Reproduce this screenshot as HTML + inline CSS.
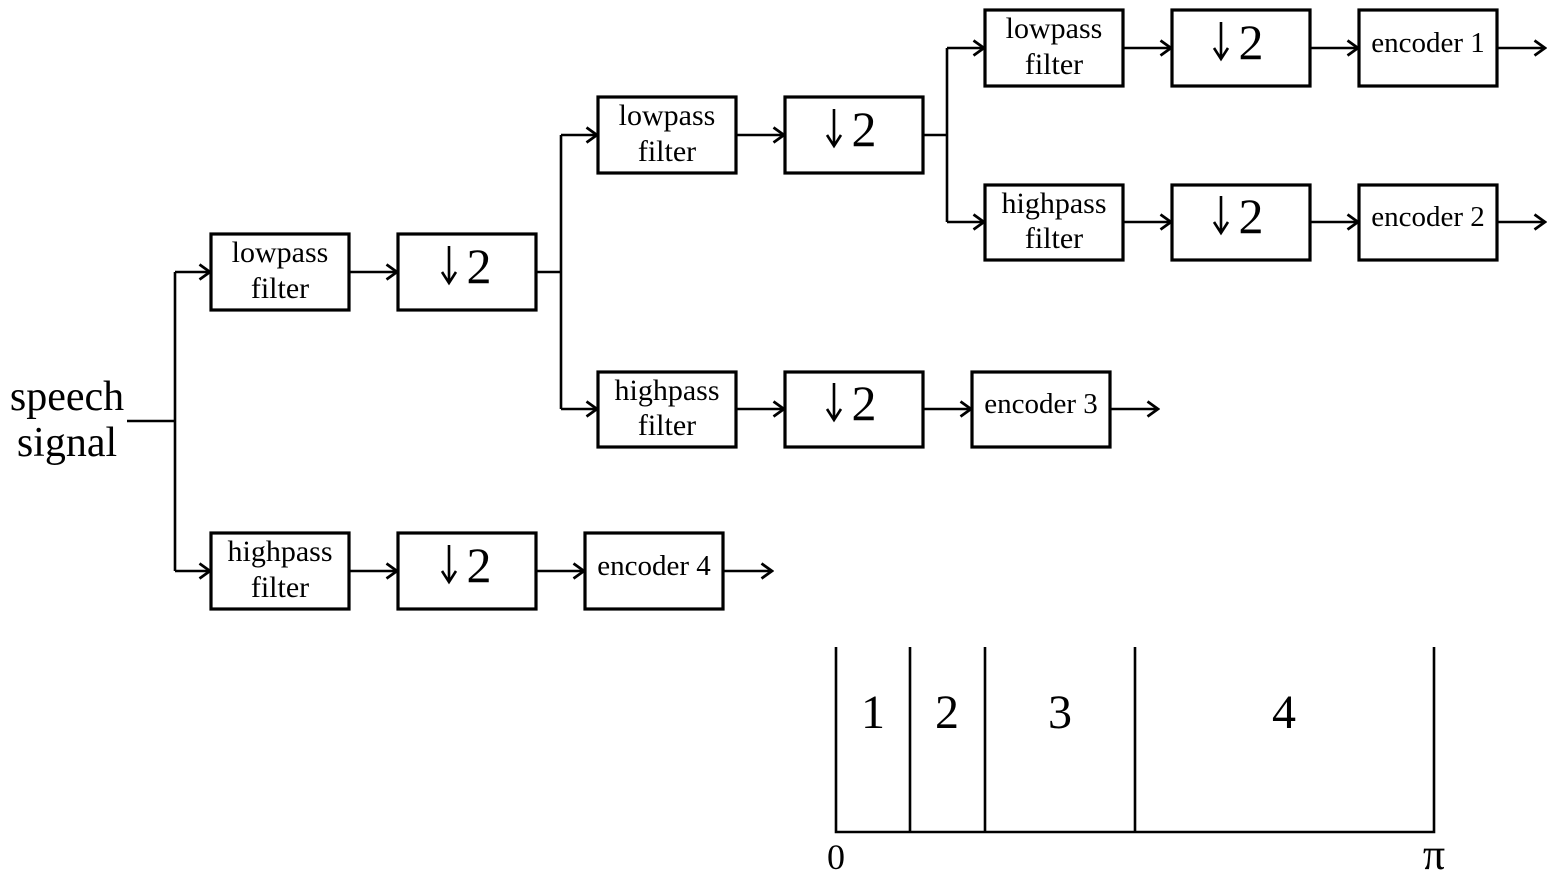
<!DOCTYPE html>
<html><head><meta charset="utf-8"><style>html,body{margin:0;padding:0;background:#fff}svg{display:block}</style></head>
<body>
<svg width="1550" height="892" viewBox="0 0 1550 892" xmlns="http://www.w3.org/2000/svg" font-family="'Liberation Serif', serif" fill="#000">
<defs>
<marker id="a" viewBox="0 0 14 18" refX="12" refY="9" markerWidth="14" markerHeight="18" markerUnits="userSpaceOnUse" orient="auto">
<path d="M1.5,1.5 L12,9 L1.5,16.5" fill="none" stroke="#000" stroke-width="2.8"/>
</marker>
<g id="d"><path d="M0,0 V36 M-7,26 L0,37 L7,26" fill="none" stroke="#000" stroke-width="2.6"/><text x="30" y="37" font-size="50" text-anchor="middle">2</text></g>
</defs>
<g fill="none" stroke="#000" stroke-width="3.2">
<rect x="985" y="10" width="138" height="76"/><rect x="1172" y="10" width="138" height="76"/><rect x="1359" y="10" width="138" height="76"/>
<rect x="598" y="97" width="138" height="76"/><rect x="785" y="97" width="138" height="76"/>
<rect x="985" y="185" width="138" height="75"/><rect x="1172" y="185" width="138" height="75"/><rect x="1359" y="185" width="138" height="75"/>
<rect x="211" y="234" width="138" height="76"/><rect x="398" y="234" width="138" height="76"/>
<rect x="598" y="372" width="138" height="75"/><rect x="785" y="372" width="138" height="75"/><rect x="972" y="372" width="138" height="75"/>
<rect x="211" y="533" width="138" height="76"/><rect x="398" y="533" width="138" height="76"/><rect x="585" y="533" width="138" height="76"/>
</g>
<g fill="none" stroke="#000" stroke-width="2.6">
<path d="M127,421 H175 M175,272 V571 M536,272 H561 M561,135 V409 M923,135 H947 M947,48 V222"/>
<path d="M175,272 H210" marker-end="url(#a)"/><path d="M175,571 H210" marker-end="url(#a)"/>
<path d="M349,272 H397" marker-end="url(#a)"/>
<path d="M561,135 H597" marker-end="url(#a)"/><path d="M561,409 H597" marker-end="url(#a)"/>
<path d="M736,135 H784" marker-end="url(#a)"/>
<path d="M947,48 H984" marker-end="url(#a)"/><path d="M947,222 H984" marker-end="url(#a)"/>
<path d="M1123,48 H1171" marker-end="url(#a)"/><path d="M1310,48 H1358" marker-end="url(#a)"/><path d="M1497,48 H1545" marker-end="url(#a)"/>
<path d="M1123,222 H1171" marker-end="url(#a)"/><path d="M1310,222 H1358" marker-end="url(#a)"/><path d="M1497,222 H1545" marker-end="url(#a)"/>
<path d="M736,409 H784" marker-end="url(#a)"/><path d="M923,409 H971" marker-end="url(#a)"/><path d="M1110,409 H1158" marker-end="url(#a)"/>
<path d="M349,571 H397" marker-end="url(#a)"/><path d="M536,571 H584" marker-end="url(#a)"/><path d="M723,571 H772" marker-end="url(#a)"/>
<path d="M836,647 V832 H1434 V647 M910,647 V832 M985,647 V832 M1135,647 V832"/>
</g>
<g font-size="30" text-anchor="middle">
<text x="1054" y="38">lowpass</text><text x="1054" y="74">filter</text>
<text x="1054" y="213">highpass</text><text x="1054" y="248">filter</text>
<text x="667" y="125">lowpass</text><text x="667" y="161">filter</text>
<text x="667" y="400">highpass</text><text x="667" y="435">filter</text>
<text x="280" y="262">lowpass</text><text x="280" y="298">filter</text>
<text x="280" y="561">highpass</text><text x="280" y="597">filter</text>
</g>
<g font-size="29" text-anchor="middle">
<text x="1428" y="52">encoder 1</text><text x="1428" y="226">encoder 2</text>
<text x="1041" y="413">encoder 3</text><text x="654" y="575">encoder 4</text>
</g>
<use href="#d" x="1221" y="22"/>
<use href="#d" x="1221" y="196"/>
<use href="#d" x="834" y="109"/>
<use href="#d" x="834" y="383"/>
<use href="#d" x="449" y="246"/>
<use href="#d" x="449" y="545"/>
<g font-size="42" text-anchor="middle">
<text x="67" y="410">speech</text><text x="67" y="456">signal</text>
</g>
<g font-size="48" text-anchor="middle">
<text x="873" y="728">1</text><text x="947" y="728">2</text><text x="1060" y="728">3</text><text x="1284" y="728">4</text>
</g>
<g font-size="36" text-anchor="middle">
<text x="836" y="869">0</text><text x="1434" y="869" font-size="44">π</text>
</g>
</svg>
</body></html>
